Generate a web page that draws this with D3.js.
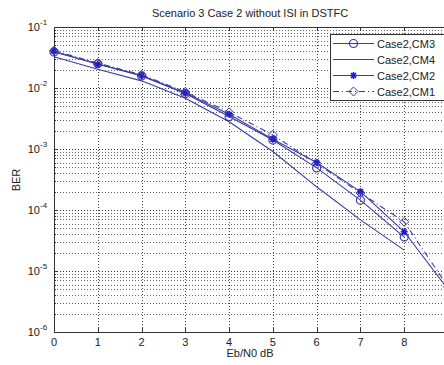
<!DOCTYPE html>
<html>
<head>
<meta charset="utf-8">
<script src="https://cdn.jsdelivr.net/npm/d3@7"></script>
<style>
  body { margin: 0; background: #fff; }
  svg { display: block; font-family: "Liberation Sans", Arial, sans-serif; }
</style>
</head>
<body>
<svg id="chart"></svg>
<script>
// data
const snr = [0, 1, 2, 3, 4, 5, 6, 7, 8, 9];
const berCM3 = [0.039, 0.025, 0.0158, 0.0081, 0.0034, 0.0014, 0.00049, 0.000145, 0.000036];
const berCM4 = [0.0326, 0.0203, 0.0131, 0.0068, 0.0028, 0.00091, 0.00024, 0.000069, 0.000022];
const berCM2 = [0.040, 0.0245, 0.016, 0.0083, 0.0037, 0.00145, 0.0006, 0.0002, 0.000044, 0.000005];
const berCM1 = [0.041, 0.0255, 0.0165, 0.0086, 0.004, 0.0017, 0.00058, 0.00019, 0.000064, 0.0000055];
const seriesNames = ["Case2,CM3", "Case2,CM4", "Case2,CM2", "Case2,CM1"];
const xTicks = [0, 1, 2, 3, 4, 5, 6, 7, 8, 9];
const xLabels = [0, 1, 2, 3, 4, 5, 6, 7, 8]; // the 9 falls off the picture
const yExps = [-1, -2, -3, -4, -5, -6];

const W = 444, H = 365;
const svg = d3.select("#chart").attr("width", W).attr("height", H);

// plot box (right edge falls just outside the picture)
const pLeft = 54, pTop = 27, pRight = 448, pBottom = 332;

const x = d3.scaleLinear().domain([0, 9]).range([pLeft, pRight]);
const y = d3.scaleLog().domain([1e-6, 1e-1]).range([pBottom, pTop]);

const lineCol = "#3b3ba6";
const markCol = "#1c1ccc";

// grid
const grid = svg.append("g");
xTicks.slice(1).forEach(t => {
  grid.append("line")
    .attr("x1", Math.round(x(t)) + 0.5).attr("x2", Math.round(x(t)) + 0.5).attr("y1", pTop).attr("y2", pBottom)
    .attr("stroke", "#444").attr("stroke-dasharray", "1,2");
});
for (let e = -6; e < -1; e++) {
  for (let m = 1; m <= 9; m++) {
    const v = m * Math.pow(10, e);
    if (v <= 1e-6) continue;
    grid.append("line")
      .attr("x1", pLeft).attr("x2", pRight).attr("y1", Math.round(y(v)) + 0.5).attr("y2", Math.round(y(v)) + 0.5)
      .attr("stroke", m == 1 ? "#333" : "#666").attr("stroke-dasharray", "1,2");
  }
}

// axes box
svg.append("rect")
  .attr("x", pLeft + 0.5).attr("y", pTop + 0.5)
  .attr("width", pRight - pLeft).attr("height", pBottom - pTop)
  .attr("fill", "none").attr("stroke", "#333");

// ticks
const tk = svg.append("g").attr("stroke", "#333");
xTicks.forEach(t => {
  const xx = Math.round(x(t)) + 0.5;
  tk.append("line").attr("x1", xx).attr("x2", xx).attr("y1", pBottom).attr("y2", pBottom - 4);
  tk.append("line").attr("x1", xx).attr("x2", xx).attr("y1", pTop).attr("y2", pTop + 4);
});
for (let e = -6; e <= -1; e++) {
  for (let m = 1; m <= 9; m++) {
    const v = m * Math.pow(10, e);
    if (v > 0.1 + 1e-12) continue;
    const len = m == 1 ? 4 : 2;
    tk.append("line").attr("x1", pLeft).attr("x2", pLeft + len)
      .attr("y1", Math.round(y(v)) + 0.5).attr("y2", Math.round(y(v)) + 0.5);
  }
}

// tick labels
svg.selectAll(".xl").data(xLabels).join("text")
  .attr("x", d => x(d)).attr("y", pBottom + 14)
  .attr("text-anchor", "middle").attr("font-size", 11).attr("fill", "#222")
  .text(d => d);

svg.selectAll(".yl").data(yExps).join("text")
  .attr("x", 40).attr("y", d => y(Math.pow(10, d)) + 4)
  .attr("font-size", 11).attr("fill", "#222").attr("text-anchor", "end")
  .text("10");
svg.selectAll(".ye").data(yExps).join("text")
  .attr("x", 40).attr("y", d => y(Math.pow(10, d)) - 2)
  .attr("font-size", 8).attr("fill", "#222")
  .text(d => d);

// title and axis labels
svg.append("text").attr("x", 250).attr("y", 17).attr("text-anchor", "middle")
  .attr("font-size", 11).attr("fill", "#222").text("Scenario 3 Case 2 without ISI in DSTFC");
svg.append("text").attr("x", 250).attr("y", 357).attr("text-anchor", "middle")
  .attr("font-size", 11).attr("fill", "#222").text("Eb/N0 dB");
svg.append("text").attr("transform", "translate(20,180) rotate(-90)").attr("text-anchor", "middle")
  .attr("font-size", 11).attr("fill", "#222").text("BER");

// markers
function drawMarker(g, kind, cx, cy) {
  if (kind == "circle") {
    g.append("circle").attr("cx", cx).attr("cy", cy).attr("r", 4)
      .attr("fill", "none").attr("stroke", lineCol).attr("stroke-width", 1.2);
  } else if (kind == "star") {
    const s = 3.5;
    const p = `M${cx - s},${cy}L${cx + s},${cy}M${cx},${cy - s}L${cx},${cy + s}` +
      `M${cx - s * 0.7},${cy - s * 0.7}L${cx + s * 0.7},${cy + s * 0.7}M${cx - s * 0.7},${cy + s * 0.7}L${cx + s * 0.7},${cy - s * 0.7}`;
    g.append("path").attr("d", p).attr("stroke", markCol).attr("stroke-width", 1.6);
  } else if (kind == "diamond") {
    const s = 4.5;
    g.append("path").attr("d", `M${cx},${cy - s}L${cx + s},${cy}L${cx},${cy + s}L${cx - s},${cy}Z`)
      .attr("fill", "none").attr("stroke", lineCol).attr("stroke-width", 1);
  }
}

const series = [
  { name: seriesNames[0], vals: berCM3, marker: "circle", dash: null },
  { name: seriesNames[1], vals: berCM4, marker: null, dash: null },
  { name: seriesNames[2], vals: berCM2, marker: "star", dash: null },
  { name: seriesNames[3], vals: berCM1, marker: "diamond", dash: "6,3,1,3" }
];

const line = d3.line().x(d => x(d[0])).y(d => y(d[1]));
const plot = svg.append("g");
series.forEach(s => {
  const pts = s.vals.map((v, i) => [snr[i], v]);
  plot.append("path").attr("d", line(pts)).attr("fill", "none")
    .attr("stroke", lineCol).attr("stroke-width", 1.1)
    .attr("stroke-dasharray", s.dash);
  if (s.marker) pts.forEach(p => drawMarker(plot, s.marker, x(p[0]), y(p[1])));
});

// legend
const lg = svg.append("g");
lg.append("rect").attr("x", 330.5).attr("y", 34.5).attr("width", 130).attr("height", 66)
  .attr("fill", "#fff").attr("stroke", "#333");
series.forEach((s, i) => {
  const ly = 43.5 + i * 16;
  lg.append("line").attr("x1", 333).attr("x2", 374).attr("y1", ly).attr("y2", ly)
    .attr("stroke", lineCol).attr("stroke-width", 1.1).attr("stroke-dasharray", s.dash);
  if (s.marker) drawMarker(lg, s.marker, 353.5, ly);
  lg.append("text").attr("x", 377).attr("y", ly + 4).attr("font-size", 11)
    .attr("fill", "#222").text(s.name);
});
</script>
</body>
</html>
